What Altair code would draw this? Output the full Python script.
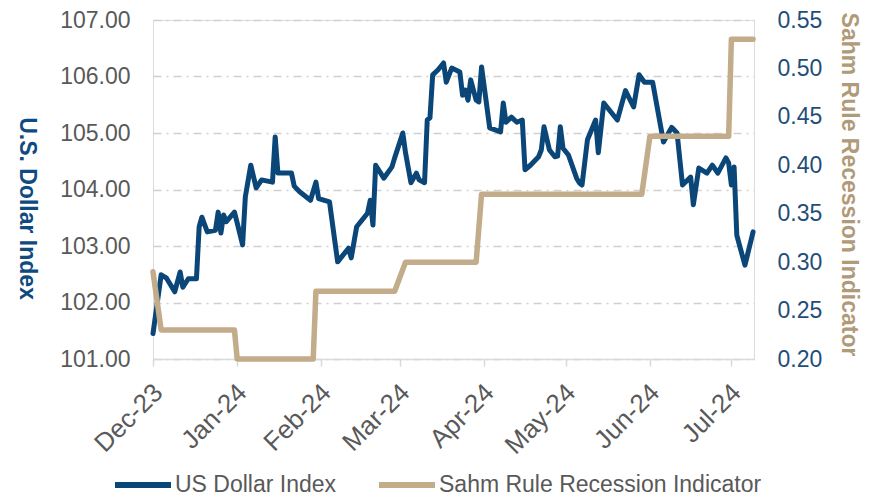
import altair as alt
import pandas as pd

# ---- data ----
usd_dates = [
    "2023-12-01", "2023-12-04", "2023-12-06", "2023-12-09", "2023-12-11", "2023-12-12",
    "2023-12-14", "2023-12-17", "2023-12-18", "2023-12-19", "2023-12-21", "2023-12-24",
    "2023-12-25", "2023-12-26", "2023-12-27", "2023-12-28", "2023-12-31", "2024-01-01",
    "2024-01-03", "2024-01-04", "2024-01-06", "2024-01-08", "2024-01-10", "2024-01-14",
    "2024-01-15", "2024-01-16", "2024-01-21", "2024-01-22", "2024-01-24", "2024-01-28",
    "2024-01-30", "2024-01-31", "2024-02-04", "2024-02-07", "2024-02-11", "2024-02-12",
    "2024-02-14", "2024-02-18", "2024-02-19", "2024-02-20", "2024-02-21", "2024-02-24",
    "2024-02-27", "2024-02-28", "2024-03-02", "2024-03-03", "2024-03-05", "2024-03-07",
    "2024-03-08", "2024-03-10", "2024-03-11", "2024-03-12", "2024-03-13", "2024-03-15",
    "2024-03-17", "2024-03-18", "2024-03-20", "2024-03-23", "2024-03-24", "2024-03-25",
    "2024-03-26", "2024-03-27", "2024-03-29", "2024-03-30", "2024-03-31", "2024-04-03",
    "2024-04-07", "2024-04-08", "2024-04-09", "2024-04-11", "2024-04-13", "2024-04-15",
    "2024-04-16", "2024-04-18", "2024-04-21", "2024-04-22", "2024-04-23", "2024-04-25",
    "2024-04-27", "2024-04-28", "2024-04-29", "2024-04-30", "2024-05-02", "2024-05-05",
    "2024-05-06", "2024-05-07", "2024-05-09", "2024-05-12", "2024-05-13", "2024-05-15",
    "2024-05-20", "2024-05-23", "2024-05-26", "2024-05-28", "2024-05-30", "2024-06-02",
    "2024-06-06", "2024-06-09", "2024-06-11", "2024-06-13", "2024-06-16", "2024-06-17",
    "2024-06-19", "2024-06-22", "2024-06-24", "2024-06-26", "2024-06-29", "2024-06-30",
    "2024-07-01", "2024-07-02", "2024-07-03", "2024-07-06", "2024-07-09",
]
usd_values = [
    101.45, 102.49, 102.43, 102.19, 102.54, 102.27,
    102.42, 102.42, 103.34, 103.51, 103.25, 103.28,
    103.60, 103.23, 103.55, 103.43, 103.60, 103.41,
    103.02, 103.87, 104.43, 104.03, 104.17, 104.13,
    104.93, 104.29, 104.29, 104.06, 103.96, 103.81,
    104.13, 103.84, 103.78, 102.72, 102.96, 102.79,
    103.34, 103.58, 103.81, 103.37, 104.43, 104.20,
    104.40, 104.56, 105.00, 104.65, 104.12, 104.29,
    104.17, 104.12, 105.23, 105.27, 106.03, 106.12,
    106.24, 105.90, 106.15, 106.08, 105.67, 105.76,
    105.58, 105.94, 105.58, 105.55, 106.17, 105.09,
    105.02, 105.53, 105.19, 105.28, 105.19, 105.23,
    104.35, 104.43, 104.58, 104.70, 105.11, 104.70,
    104.58, 104.59, 105.11, 104.73, 104.61, 104.20,
    104.12, 104.08, 104.88, 105.23, 104.65, 105.53,
    105.23, 105.75, 105.46, 106.03, 105.90, 105.90,
    104.84, 105.10, 105.00, 104.08, 104.22, 103.73,
    104.38, 104.29, 104.43, 104.29, 104.56, 104.47,
    104.08, 104.40, 103.19, 102.66, 103.25,
]

sahm_dates = [
    "2023-12-01", "2023-12-04", "2023-12-31", "2024-01-01", "2024-01-29", "2024-01-30",
    "2024-02-28", "2024-03-03", "2024-03-29", "2024-03-31", "2024-05-29", "2024-06-01",
    "2024-06-30", "2024-07-01", "2024-07-09",
]
sahm_values = [
    0.29, 0.23, 0.23, 0.20, 0.20, 0.27,
    0.27, 0.30, 0.30, 0.37, 0.37, 0.43,
    0.43, 0.53, 0.53,
]

series_names = ["US Dollar Index", "Sahm Rule Recession Indicator"]
series_colors = ["#0B4679", "#C2AC8A"]

usd_ticks = [101, 102, 103, 104, 105, 106, 107]
sahm_ticks = [0.20, 0.25, 0.30, 0.35, 0.40, 0.45, 0.50, 0.55]
month_ticks = [(2023, 12)] + [(2024, m) for m in range(1, 8)]

# ---- tables ----
usd = pd.DataFrame({"date": usd_dates, "value": usd_values, "series": series_names[0]})
sahm = pd.DataFrame({"date": sahm_dates, "value": sahm_values, "series": series_names[1]})

FONT = "Liberation Sans, Arial, sans-serif"
GRAY = "#595959"

x_enc = alt.X(
    "date:T",
    title=None,
    scale=alt.Scale(
        type="utc",
        domain=[alt.DateTime(year=2023, month=12, date=1, utc=True),
                alt.DateTime(year=2024, month=7, date=9, hours=8, utc=True)],
    ),
    axis=alt.Axis(
        values=[alt.DateTime(year=y, month=m, date=1, utc=True) for y, m in month_ticks],
        format="%b-%y",
        labelAngle=-45,
        labelAlign="right",
        labelBaseline="middle",
        labelPadding=22,
        labelOffset=5,
        labelFontSize=26,
        labelColor=GRAY,
        labelFont=FONT,
        domainColor="#D9D9D9",
        domainWidth=1.5,
        tickColor="#D9D9D9",
        tickWidth=1.5,
        tickSize=7,
        grid=False,
    ),
)

color_enc = alt.Color(
    "series:N",
    scale=alt.Scale(domain=series_names, range=series_colors),
    legend=alt.Legend(
        title=None,
        orient="none",
        direction="horizontal",
        legendX=-41,
        legendY=434,
        padding=0,
        symbolType="stroke",
        symbolSize=3136,
        symbolStrokeWidth=6,
        labelFontSize=23,
        labelFont=FONT,
        labelColor=GRAY,
        labelOffset=1,
        labelLimit=500,
        columnPadding=30,
    ),
)

usd_line = alt.Chart(usd).mark_line(strokeWidth=5, strokeJoin="round", strokeCap="round").encode(
    x=x_enc,
    y=alt.Y(
        "value:Q",
        scale=alt.Scale(domain=[101, 107], nice=False, zero=False),
        axis=alt.Axis(
            orient="left",
            values=usd_ticks,
            format=".2f",
            domain=False,
            ticks=False,
            tickSize=0,
            grid=True,
            gridColor="#D0D0D0",
            gridWidth=1.5,
            gridDash=[8, 5, 2, 5],
            labelColor=GRAY,
            labelFontSize=23,
            labelFont=FONT,
            labelPadding=23,
            title="U.S. Dollar Index",
            titleColor="#0F4A80",
            titleFont=FONT,
            titleFontSize=23,
            titleFontWeight="bold",
            titleAngle=90,
            titleAlign="center",
            titleBaseline="middle",
            titleX=-127,
            titleY=188,
        ),
    ),
    color=color_enc,
)

sahm_line = alt.Chart(sahm).mark_line(strokeWidth=5.5, strokeJoin="round", strokeCap="round").encode(
    x=x_enc,
    y=alt.Y(
        "value:Q",
        scale=alt.Scale(domain=[0.20, 0.55], nice=False, zero=False),
        axis=alt.Axis(
            orient="right",
            values=sahm_ticks,
            format=".2f",
            domain=False,
            ticks=False,
            tickSize=0,
            grid=False,
            labelColor="#1F4E79",
            labelFontSize=23,
            labelFont=FONT,
            labelPadding=23,
            title="Sahm Rule Recession Indicator",
            titleColor="#B09A77",
            titleFont=FONT,
            titleFontSize=23,
            titleFontWeight="bold",
            titleAngle=90,
            titleAlign="center",
            titleBaseline="middle",
            titleX=94,
            titleY=164,
        ),
    ),
    color=color_enc,
)

chart = (
    alt.layer(usd_line, sahm_line)
    .resolve_scale(y="independent")
    .properties(
        width=601,
        height=339,
        padding={"left": 145, "top": 12, "right": 114, "bottom": 141},
        autosize=alt.AutoSizeParams(type="none"),
    )
    .configure_view(stroke=None)
    .configure(font=FONT)
)

chart.save("out.html", embed_options={"renderer": "svg", "actions": False})
